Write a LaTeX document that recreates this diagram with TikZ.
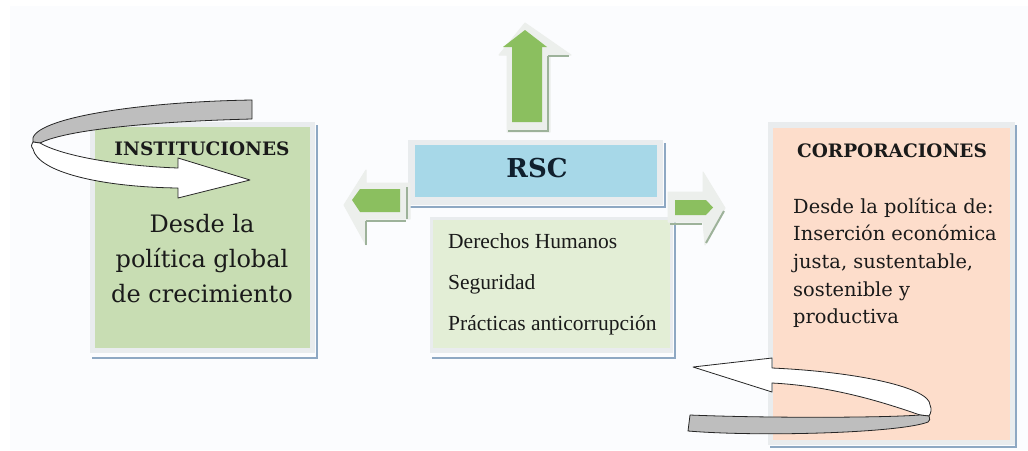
\documentclass[tikz,border=0pt]{standalone}
\usepackage{fontspec}
\setmainfont{DejaVu Serif}
\newfontfamily\libserif{Liberation Serif}
\definecolor{bgcol}{HTML}{FBFCFE}
\definecolor{framecol}{HTML}{E9ECEE}
\definecolor{shadowcol}{HTML}{8EA8C3}
\definecolor{instfill}{HTML}{C8DDB3}
\definecolor{rscfill}{HTML}{A7D8E8}
\definecolor{subfill}{HTML}{E3EED6}
\definecolor{corpfill}{HTML}{FDDDCB}
\definecolor{arrowgreen}{HTML}{8BBF5F}
\definecolor{glowcol}{HTML}{ECEFEC}
\definecolor{ashadow}{HTML}{9DB29A}
\definecolor{ribbongray}{HTML}{BEBEBE}
\definecolor{txt}{HTML}{1A1A1A}
\definecolor{rsctext}{HTML}{10202E}
\begin{document}
\begin{tikzpicture}[x=1pt,y=-1pt,
  box/.style={draw=none,inner sep=0pt,outer sep=0pt},
  shadowline/.style={draw=shadowcol,line width=2pt},
  headtext/.style={font=\bfseries\fontsize{18.5}{22}\selectfont,text=txt,inner sep=0pt,anchor=base},
  bigtext/.style={font=\fontsize{24}{30}\selectfont,text=txt,inner sep=0pt,anchor=base},
  corptext/.style={font=\fontsize{19.4}{24}\selectfont,text=txt,inner sep=0pt,anchor=base west},
  subtext/.style={font=\libserif\fontsize{21.5}{26}\selectfont,text=txt,inner sep=0pt,anchor=base west},
  glow/.style={fill=glowcol,draw=glowcol,line width=1pt,line join=round},
  greenarrow/.style={fill=arrowgreen},
  arrowshadow/.style={draw=ashadow,line width=2pt},
  ribbon/.style={draw=black!85,line width=0.8pt,line join=round}]
\useasboundingbox (0,0) rectangle (1028,450);
\fill[white] (0,0) rectangle (1028,450);
\fill[bgcol] (10,6) rectangle (1028,450);

% INSTITUCIONES box
\fill[framecol] (90,122) rectangle (315,353);
\draw[shadowline] (317,125) -- (317,358) -- (92,358);
\node[box,fill=instfill,minimum width=215pt,minimum height=221pt] (inst) at (202.5,237.5) {};
\node[headtext] (insttitle) at (202,155) {INSTITUCIONES};
\node[bigtext] (inst1) at (202,232) {Desde la};
\node[bigtext] (inst2) at (202,267) {política global};
\node[bigtext] (inst3) at (202,302) {de crecimiento};

% RSC box
\fill[framecol] (408,140) rectangle (663,205);
\draw[shadowline] (665,143) -- (665,207) -- (410,207);
\node[box,fill=rscfill,minimum width=242pt,minimum height=52pt] (rsc) at (536,171) {};
\node[font=\bfseries\fontsize{26}{30}\selectfont,text=rsctext,inner sep=0pt,anchor=base] (rsclabel) at (537,177) {RSC};

% sub box
\fill[framecol] (430,217) rectangle (673,353);
\draw[shadowline] (675,222) -- (675,358) -- (432,358);
\node[box,fill=subfill,minimum width=237pt,minimum height=128pt] (sub) at (551.5,284) {};
\node[subtext] (dh) at (448,248) {Derechos Humanos};
\node[subtext] (seg) at (448,289) {Seguridad};
\node[subtext] (prac) at (448,330) {Prácticas anticorrupción};

% CORPORACIONES box
\fill[framecol] (768,122) rectangle (1015,445);
\draw[shadowline] (1016,125) -- (1016,447) -- (770,447);
\node[box,fill=corpfill,minimum width=237pt,minimum height=312pt] (corp) at (891.5,284) {};
\node[headtext] (corptitle) at (892,157) {CORPORACIONES};
\node[corptext] (c1) at (793,213) {Desde la política de:};
\node[corptext] (c2) at (793,240.5) {Inserción económica};
\node[corptext] (c3) at (793,268) {justa, sustentable,};
\node[corptext] (c4) at (793,296) {sostenible y};
\node[corptext] (c5) at (793,323) {productiva};

% top arrow
\path[glow] (525,23) -- (571,55) -- (550,55) -- (550,132) -- (507,132) -- (507,55) -- (499,55) -- cycle;
\draw[arrowshadow] (548,56) -- (569,56);
\draw[arrowshadow] (548,56) -- (548,131) -- (508,131);
\fill[greenarrow] (525,30) -- (547,47) -- (542,47) -- (542,122) -- (512,122) -- (512,47) -- (503,47) -- cycle;

% left arrow
\path[glow] (344,205) -- (366,170) -- (366,183) -- (410,183) -- (410,219) -- (366,219) -- (366,245) -- cycle;
\draw[arrowshadow] (407,187) -- (407,219);
\draw[arrowshadow] (366,221) -- (406,221);
\draw[arrowshadow] (366,221) -- (366,245);
\fill[greenarrow] (352,200) -- (360,189) -- (400,189) -- (400,212) -- (360,212) -- cycle;

% right arrow
\path[glow] (668,192) -- (703,192) -- (703,172) -- (725,208) -- (705,245) -- (703,222) -- (668,222) -- cycle;
\draw[arrowshadow] (670,224) -- (702,224);
\draw[arrowshadow] (724,211) -- (706,243);
\fill[greenarrow] (675,200) -- (706,200) -- (713,207.5) -- (706,215) -- (675,215) -- cycle;

% left ribbon arrow
\filldraw[ribbon,fill=ribbongray] (33,142) .. controls (26,120) and (130,102) .. (252,100) -- (252,119)
  .. controls (170,121) and (70,128) .. (40,143) -- cycle;
\filldraw[ribbon,fill=white] (40,143) .. controls (62,156) and (120,166) .. (178,168) -- (178,158) -- (250,180)
  -- (178,198) -- (178,188) .. controls (100,187) and (38,172) .. (33,149) .. controls (31,146) .. (33,142) -- cycle;

% right ribbon arrow
\filldraw[ribbon,fill=white] (693,367) -- (772,358) -- (772,368) .. controls (860,372) and (930,388) .. (930,405)
  .. controls (932,409) and (931,413) .. (929,416) -- (920,415) .. controls (880,401) and (830,386) .. (772,383)
  -- (772,392) -- cycle;
\filldraw[ribbon,fill=ribbongray] (920,415) .. controls (880,418) and (760,418) .. (690,415) -- (688,431)
  .. controls (760,437) and (900,433) .. (928,422) .. controls (930,420) .. (929,416) -- cycle;
\end{tikzpicture}
\end{document}
